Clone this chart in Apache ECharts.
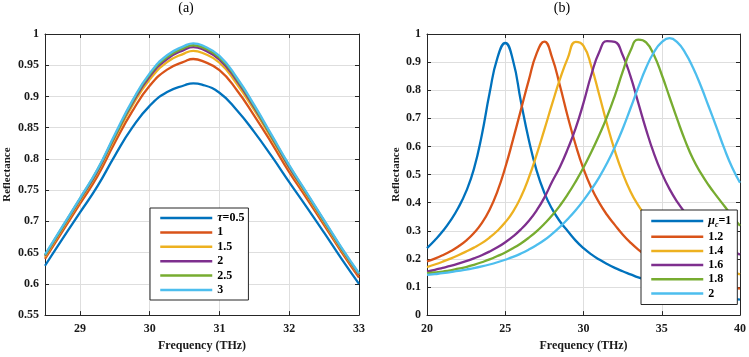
<!DOCTYPE html>
<html>
<head>
<meta charset="utf-8">
<script src="https://cdn.jsdelivr.net/npm/echarts@6/dist/echarts.min.js"></script>
<style>
html, body { margin: 0; padding: 0; background: #fff; }
#chart { width: 749px; height: 357px; }
</style>
</head>
<body>
<div id="chart"></div>
<script>
// (a) reflectance for different tau
var freqA = [28.5, 28.75, 29, 29.25, 29.5, 29.75, 30, 30.25, 30.5, 30.625, 30.75, 31, 31.25, 31.5, 31.75, 32, 32.25, 32.5, 32.75, 33];
var tau05 = [0.629, 0.672, 0.714, 0.756, 0.805, 0.850, 0.885, 0.907, 0.918, 0.921, 0.919, 0.906, 0.878, 0.843, 0.804, 0.763, 0.723, 0.682, 0.640, 0.600];
var tau10 = [0.640, 0.684, 0.728, 0.772, 0.826, 0.876, 0.917, 0.943, 0.956, 0.960, 0.957, 0.942, 0.910, 0.869, 0.825, 0.779, 0.737, 0.694, 0.651, 0.610];
var tau15 = [0.643, 0.688, 0.733, 0.778, 0.833, 0.885, 0.927, 0.955, 0.969, 0.973, 0.970, 0.954, 0.920, 0.878, 0.832, 0.785, 0.742, 0.698, 0.654, 0.614];
var tau20 = [0.645, 0.690, 0.735, 0.780, 0.836, 0.889, 0.932, 0.960, 0.975, 0.979, 0.976, 0.959, 0.925, 0.882, 0.835, 0.787, 0.744, 0.700, 0.656, 0.615];
var tau25 = [0.646, 0.691, 0.736, 0.782, 0.837, 0.891, 0.935, 0.963, 0.978, 0.982, 0.979, 0.962, 0.928, 0.884, 0.836, 0.789, 0.745, 0.701, 0.657, 0.616];
var tau30 = [0.647, 0.692, 0.737, 0.783, 0.839, 0.893, 0.937, 0.966, 0.981, 0.985, 0.982, 0.965, 0.930, 0.886, 0.838, 0.790, 0.746, 0.702, 0.658, 0.617];
var tauLabels = ['0.5', '1', '1.5', '2', '2.5', '3'];

// (b) reflectance for different mu_c
var freqB = [20, 20.5, 21, 21.5, 22, 22.5, 23, 23.5, 24, 24.5, 25, 25.5, 26, 26.5, 27, 27.5, 28, 28.5, 29, 29.5, 30,
  30.5, 31, 31.5, 32, 32.5, 33, 33.5, 34, 34.5, 35, 35.5, 36, 36.5, 37, 37.5, 38, 38.5, 39, 39.5, 40];
var mu10 = [0.238, 0.266, 0.298, 0.336, 0.382, 0.440, 0.520, 0.640, 0.790, 0.915, 0.968, 0.905, 0.760, 0.625, 0.515, 0.435, 0.377, 0.333, 0.298, 0.265, 0.238,
  0.216, 0.198, 0.182, 0.168, 0.156, 0.145, 0.134, 0.125, 0.116, 0.108, 0.100, 0.093, 0.087, 0.081, 0.076, 0.071, 0.067, 0.063, 0.059, 0.055];
var mu12 = [0.191, 0.201, 0.213, 0.227, 0.244, 0.265, 0.292, 0.327, 0.375, 0.440, 0.525, 0.625, 0.730, 0.835, 0.930, 0.973, 0.915, 0.815, 0.705, 0.605, 0.520,
  0.453, 0.400, 0.357, 0.321, 0.287, 0.258, 0.233, 0.212, 0.194, 0.178, 0.164, 0.152, 0.141, 0.132, 0.123, 0.116, 0.109, 0.103, 0.098, 0.094];
var mu14 = [0.171, 0.180, 0.190, 0.201, 0.213, 0.226, 0.240, 0.256, 0.276, 0.300, 0.330, 0.368, 0.420, 0.488, 0.570, 0.660, 0.752, 0.840, 0.915, 0.972, 0.958,
  0.885, 0.785, 0.680, 0.585, 0.505, 0.440, 0.390, 0.350, 0.317, 0.289, 0.265, 0.244, 0.226, 0.210, 0.196, 0.184, 0.173, 0.163, 0.154, 0.145];
var mu16 = [0.155, 0.161, 0.168, 0.175, 0.183, 0.192, 0.202, 0.213, 0.226, 0.241, 0.259, 0.280, 0.305, 0.335, 0.372, 0.418, 0.475, 0.528, 0.592, 0.665, 0.755,
  0.855, 0.935, 0.975, 0.972, 0.925, 0.850, 0.755, 0.660, 0.575, 0.505, 0.448, 0.402, 0.364, 0.332, 0.305, 0.282, 0.262, 0.245, 0.229, 0.215];
var mu18 = [0.149, 0.152, 0.155, 0.159, 0.165, 0.171, 0.179, 0.188, 0.198, 0.210, 0.223, 0.238, 0.255, 0.275, 0.298, 0.325, 0.355, 0.390, 0.430, 0.475, 0.525,
  0.580, 0.640, 0.705, 0.780, 0.865, 0.940, 0.980, 0.970, 0.925, 0.855, 0.775, 0.695, 0.620, 0.555, 0.505, 0.462, 0.424, 0.388, 0.352, 0.318];
var mu20 = [0.143, 0.146, 0.149, 0.153, 0.157, 0.162, 0.167, 0.173, 0.180, 0.188, 0.197, 0.207, 0.219, 0.233, 0.249, 0.267, 0.289, 0.314, 0.342, 0.373, 0.408,
  0.447, 0.490, 0.540, 0.597, 0.662, 0.735, 0.810, 0.880, 0.935, 0.971, 0.985, 0.970, 0.933, 0.880, 0.815, 0.742, 0.668, 0.592, 0.525, 0.471];
var muLabels = ['1', '1.2', '1.4', '1.6', '1.8', '2'];

var colors = ['#0072BD', '#D95319', '#EDB120', '#7E2F8E', '#77AC30', '#4DBEEE'];
var serif = '"Liberation Serif", "DejaVu Serif", serif';
var axisColor = '#262626';

function pairs(xs, ys) {
  return xs.map(function (x, i) { return [x, ys[i]]; });
}

var myChart = echarts.init(document.getElementById('chart'), null, { renderer: 'canvas' });

var labelStyle = { color: '#1a1a1a', fontFamily: serif, fontWeight: 'bold', fontSize: 12 };

function mainX(grid, min, max, extra) {
  var ax = {
    type: 'value', gridIndex: grid, min: min, max: max, position: 'bottom',
    axisLine: { show: true, onZero: false, lineStyle: { color: axisColor, width: 1 } },
    axisTick: { show: true, inside: true, length: 4, lineStyle: { color: axisColor } },
    axisLabel: Object.assign({ margin: 8, showMinLabel: grid === 1 }, labelStyle),
    splitLine: { show: true, lineStyle: { color: '#dedede', width: 1 } },
    name: 'Frequency (THz)', nameLocation: 'middle', nameGap: 23,
    nameTextStyle: { color: '#1a1a1a', fontFamily: serif, fontWeight: 'bold', fontSize: 12 }
  };
  return Object.assign(ax, extra);
}
function boxX(grid, min, max, extra) {
  return Object.assign({
    type: 'value', gridIndex: grid, min: min, max: max, position: 'top',
    axisLine: { show: true, onZero: false, lineStyle: { color: axisColor, width: 1 } },
    axisTick: { show: true, inside: true, length: 4, lineStyle: { color: axisColor } },
    axisLabel: { show: false }, splitLine: { show: false }
  }, extra);
}
function mainY(grid, min, max, interval, gap) {
  return {
    type: 'value', gridIndex: grid, min: min, max: max, interval: interval, position: 'left',
    axisLine: { show: true, onZero: false, lineStyle: { color: axisColor, width: 1 } },
    axisTick: { show: true, inside: true, length: 4, lineStyle: { color: axisColor } },
    axisLabel: Object.assign({ margin: 6 }, labelStyle),
    splitLine: { show: true, lineStyle: { color: '#dedede', width: 1 } },
    name: 'Reflectance', nameLocation: 'middle', nameGap: gap, nameRotate: 90,
    nameTextStyle: { color: '#1a1a1a', fontFamily: serif, fontWeight: 'bold', fontSize: 11 }
  };
}
function boxY(grid, min, max, interval) {
  return {
    type: 'value', gridIndex: grid, min: min, max: max, interval: interval, position: 'right',
    axisLine: { show: true, onZero: false, lineStyle: { color: axisColor, width: 1 } },
    axisTick: { show: true, inside: true, length: 4, lineStyle: { color: axisColor } },
    axisLabel: { show: false }, splitLine: { show: false }
  };
}

var seriesList = [];
var tauData = [tau05, tau10, tau15, tau20, tau25, tau30];
tauData.forEach(function (ys, i) {
  seriesList.push({
    name: 'tau:' + tauLabels[i], type: 'line', xAxisIndex: 0, yAxisIndex: 0,
    data: pairs(freqA, ys), symbol: 'none', smooth: 0.5,
    color: colors[i], lineStyle: { width: 2.3, color: colors[i] }
  });
});
var muData = [mu10, mu12, mu14, mu16, mu18, mu20];
muData.forEach(function (ys, i) {
  seriesList.push({
    name: 'mu:' + muLabels[i], type: 'line', xAxisIndex: 2, yAxisIndex: 2,
    data: pairs(freqB, ys), symbol: 'none', smooth: 0.5,
    color: colors[i], lineStyle: { width: 2.3, color: colors[i] }
  });
});

var legendText = {
  color: '#000', fontFamily: serif, fontWeight: 'bold', fontSize: 12,
  rich: {
    g: { fontFamily: serif, fontWeight: 'bold', fontStyle: 'italic', fontSize: 12, color: '#000' },
    s: { fontFamily: serif, fontWeight: 'bold', fontStyle: 'italic', fontSize: 8, color: '#000', padding: [7, 0, 0, 0] },
    n: { fontFamily: serif, fontWeight: 'bold', fontSize: 12, color: '#000' }
  }
};
function legendFormat(name) {
  var parts = name.split(':');
  if (parts[0] === 'tau' && parts[1] === tauLabels[0]) return '{g|τ}{n|=' + parts[1] + '}';
  if (parts[0] === 'mu' && parts[1] === muLabels[0]) return '{g|μ}{s|c}{n|=' + parts[1] + '}';
  return '{n|' + parts[1] + '}';
}

var option = {
  animation: false,
  backgroundColor: '#fff',
  graphic: [
    { type: 'text', x: 186, y: 8, style: { text: '(a)', fill: '#000', font: '14px "Liberation Serif", serif', align: 'center', verticalAlign: 'middle' } },
    { type: 'text', x: 562, y: 8, style: { text: '(b)', fill: '#000', font: '14px "Liberation Serif", serif', align: 'center', verticalAlign: 'middle' } }
  ],
  grid: [
    { left: 45, top: 34, width: 314, height: 284 },
    { left: 427, top: 34, width: 314, height: 284 }
  ],
  xAxis: [
    mainX(0, 28.5, 33, { splitNumber: 5 }),
    boxX(0, 28.5, 33, { splitNumber: 5 }),
    mainX(1, 20, 40, { interval: 5 }),
    boxX(1, 20, 40, { interval: 5 })
  ],
  yAxis: [
    mainY(0, 0.55, 1, 0.05, 32),
    boxY(0, 0.55, 1, 0.05),
    mainY(1, 0, 1, 0.1, 25),
    boxY(1, 0, 1, 0.1)
  ],
  legend: [
    {
      data: tauLabels.map(function (l) { return 'tau:' + l; }),
      orient: 'vertical', left: 150, top: 208,
      itemWidth: 52, itemHeight: 13, itemGap: 2.4,
      padding: [4, 4, 4, 9],
      itemStyle: { opacity: 0 }, lineStyle: { width: 2.5 },
      backgroundColor: '#fff', borderColor: axisColor, borderWidth: 1,
      textStyle: legendText, formatter: legendFormat, selectedMode: false
    },
    {
      data: muLabels.map(function (l) { return 'mu:' + l; }),
      orient: 'vertical', left: 641, top: 210,
      itemWidth: 52, itemHeight: 13, itemGap: 2.2,
      padding: [5, 6, 5, 9],
      itemStyle: { opacity: 0 }, lineStyle: { width: 2.5 },
      backgroundColor: '#fff', borderColor: axisColor, borderWidth: 1,
      textStyle: legendText, formatter: legendFormat, selectedMode: false
    }
  ],
  series: seriesList
};
myChart.setOption(option);
</script>
</body>
</html>
